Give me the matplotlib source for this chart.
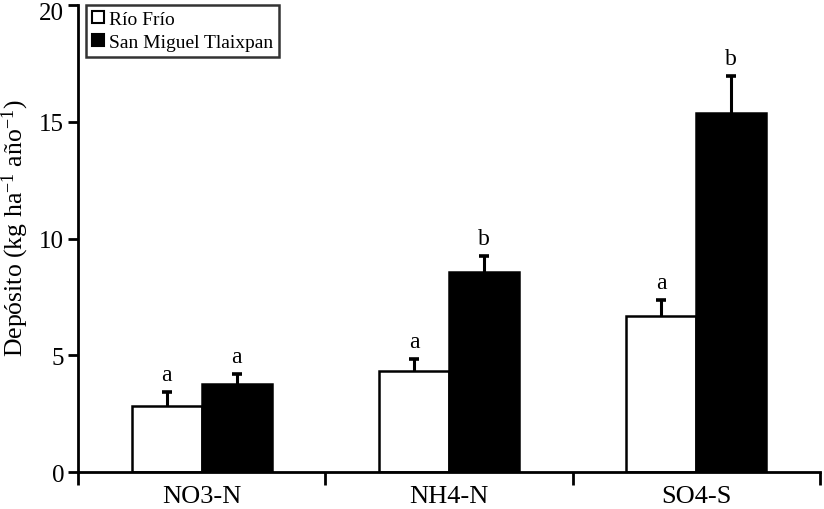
import numpy as np
import matplotlib.pyplot as plt
import matplotlib.transforms as mtransforms

plt.rcParams['font.family'] = ['Liberation Serif', 'DejaVu Serif']
plt.rcParams['mathtext.fontset'] = 'custom'
plt.rcParams['mathtext.rm'] = 'Liberation Serif'
plt.rcParams['mathtext.default'] = 'regular'

categories = ["NO3-N", "NH4-N", "SO4-S"]
rio_frio = [2.84, 4.34, 6.69]
rio_frio_err = [0.60, 0.50, 0.69]
san_miguel = [3.78, 8.58, 15.37]
san_miguel_err = [0.43, 0.69, 1.58]
rio_letters = ["a", "a", "a"]
san_letters = ["a", "b", "b"]

x = np.arange(len(categories))
w = 0.283

fig = plt.figure(figsize=(8.24, 5.10), dpi=100)
ax = fig.add_axes([0.0947, 0.0725, 0.9003, 0.9155])

ax.bar(x - w / 2, rio_frio, w, color="white", edgecolor="black", linewidth=1.8,
       label="Río Frío", zorder=2)
ax.bar(x + w / 2, san_miguel, w, color="black", edgecolor="black", linewidth=1.8,
       label="San Miguel Tlaixpan", zorder=2)

for xs, vals, errs in [(x - w / 2, rio_frio, rio_frio_err), (x + w / 2, san_miguel, san_miguel_err)]:
    eb = ax.errorbar(xs, vals, yerr=[np.zeros(len(vals)), errs], fmt="none", ecolor="black",
                     elinewidth=2.2, capsize=3.6, capthick=2.6, zorder=3)
    eb[1][0].set_visible(False)

for xs, vals, errs, letters in [(x - w / 2, rio_frio, rio_frio_err, rio_letters),
                                (x + w / 2, san_miguel, san_miguel_err, san_letters)]:
    for xi, v, e, t in zip(xs, vals, errs, letters):
        ax.annotate(t, (xi, v + e), xytext=(0, 5), textcoords="offset points",
                    ha="center", va="bottom", fontsize=17)

ax.set_xlim(-0.5, 2.5)
ax.set_ylim(0, 20)
ax.set_yticks([0, 5, 10, 15, 20])
ax.set_xticks(x)
ax.set_xticklabels(categories)
ax.set_xticks([-0.5, 0.5, 1.5, 2.5], minor=True)
ax.tick_params(axis="x", which="major", length=0, labelsize=19, pad=9)
ax.tick_params(axis="x", which="minor", length=9, width=2, direction="out")
ax.tick_params(axis="y", length=7, width=2, direction="out", labelsize=18, pad=3)

# keep the top label inside the figure, as in the reference
top = ax.get_yticklabels()[-1]
top.set_transform(top.get_transform() + mtransforms.ScaledTranslation(0, -4 / 72, fig.dpi_scale_trans))

for s in ["top", "right"]:
    ax.spines[s].set_visible(False)
for s in ["left", "bottom"]:
    ax.spines[s].set_linewidth(2)

ax.set_ylabel("Depósito (kg ha$^{-1}$ año$^{-1}$)", fontsize=18.5)
ax.yaxis.set_label_coords(-0.064, 0.525)

leg = ax.legend(loc="upper left", bbox_to_anchor=(0.011, 1.0), fontsize=14,
                frameon=True, fancybox=False, edgecolor="black", handlelength=0.6,
                handleheight=0.6, handletextpad=0.25, borderpad=0.3, labelspacing=0.3,
                borderaxespad=0.0)
leg.get_frame().set_linewidth(1.8)
for h in leg.legend_handles:
    h.set_linewidth(1.5)

fig.savefig("out.png", dpi=100)
